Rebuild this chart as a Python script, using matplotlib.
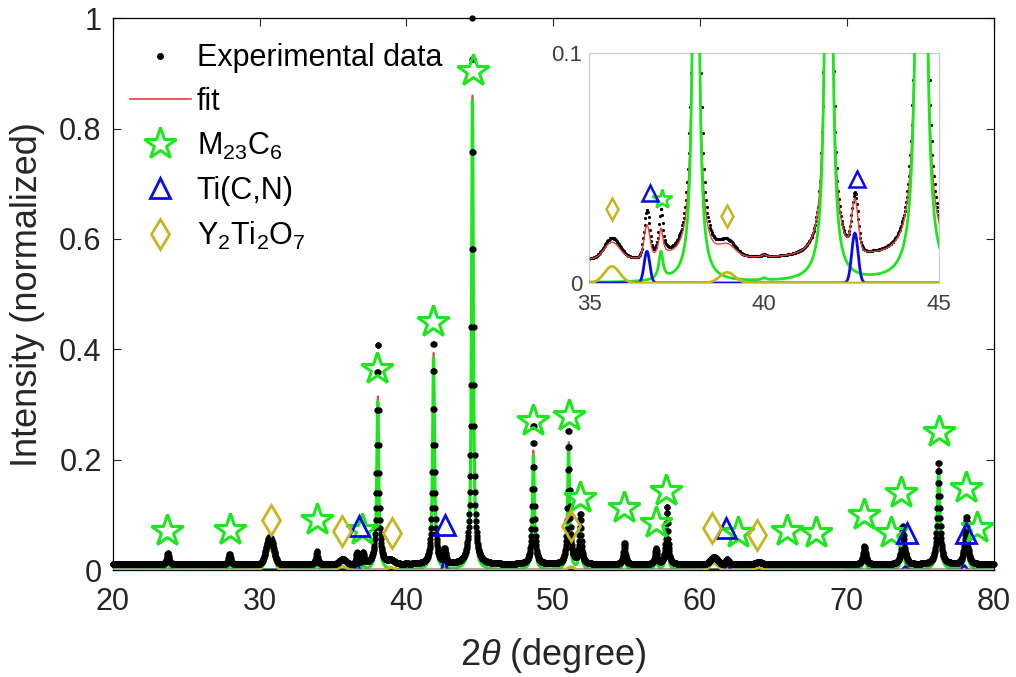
import numpy as np
import matplotlib.pyplot as plt
from matplotlib.lines import Line2D

plt.rcParams['font.family'] = ['Liberation Sans', 'DejaVu Sans']
plt.rcParams['mathtext.fontset'] = 'custom'
plt.rcParams['mathtext.rm'] = 'Liberation Sans'
plt.rcParams['mathtext.it'] = 'Liberation Sans:italic'

# peak table (2theta in degree, heights normalized)
background = 0.01

m23c6_pos = [23.75, 27.95, 33.9, 37.05, 38.05, 40.0, 41.85, 44.5, 48.65, 51.05,
             51.85, 54.85, 57.0, 57.75, 71.2, 73.8, 76.25, 78.15]
m23c6_fit = [0.018, 0.016, 0.022, 0.012, 0.31, 0.001, 0.39, 0.85, 0.21, 0.22,
             0.072, 0.035, 0.025, 0.08, 0.03, 0.055, 0.18, 0.068]
m23c6_obs = [0.022, 0.02, 0.024, 0.02, 0.405, 0.001, 0.405, 0.99, 0.255, 0.24,
             0.09, 0.04, 0.028, 0.105, 0.033, 0.068, 0.185, 0.082]
m23c6_hw = [0.08, 0.08, 0.07, 0.07, 0.075, 0.07, 0.075, 0.07, 0.075, 0.075,
            0.08, 0.08, 0.08, 0.08, 0.1, 0.1, 0.1, 0.1]

ticn_pos = [36.65, 42.6, 61.85, 74.0, 78.0]
ticn_fit = [0.0138, 0.0217, 0.008, 0.006, 0.008]
ticn_obs = [0.02, 0.024, 0.009, 0.007, 0.009]
ticn_sig = [0.08, 0.09, 0.12, 0.12, 0.12]

y2ti2o7_pos = [30.7, 35.65, 38.95, 51.2, 60.95, 64.0]
y2ti2o7_fit = [0.04, 0.0072, 0.0046, 0.006, 0.012, 0.004]
y2ti2o7_obs = [0.05, 0.009, 0.006, 0.006, 0.013, 0.004]
y2ti2o7_sig = [0.25, 0.22, 0.22, 0.22, 0.25, 0.25]

# phase markers in the main plot
star_x = [23.7, 28.0, 33.9, 37.0, 38.0, 41.8, 44.55, 48.6, 51.05, 51.8, 54.8,
          57.0, 57.7, 62.6, 65.9, 67.9, 71.2, 73.0, 73.7, 76.3, 78.1, 78.9]
star_y = [0.07, 0.072, 0.09, 0.072, 0.365, 0.45, 0.905, 0.27, 0.28, 0.13, 0.112,
          0.085, 0.143, 0.067, 0.07, 0.067, 0.1, 0.067, 0.139, 0.25, 0.148, 0.076]
tri_x = [36.8, 42.6, 61.8, 74.1, 78.1]
tri_y = [0.079, 0.081, 0.076, 0.067, 0.067]
dia_x = [30.8, 35.6, 39.0, 51.2, 60.8, 63.9]
dia_y = [0.09, 0.07, 0.067, 0.079, 0.076, 0.063]

# phase markers in the inset
in_star_x, in_star_y = [37.07], [0.0365]
in_tri_x, in_tri_y = [36.73, 42.65], [0.039, 0.045]
in_dia_x, in_dia_y = [35.64, 38.95], [0.032, 0.029]


def lorentz(x, pos, h, w):
    out = np.zeros_like(x)
    for p, a, g in zip(pos, h, w):
        out += a / (1 + ((x - p) / g) ** 2)
    return out


def gauss(x, pos, h, s):
    out = np.zeros_like(x)
    for p, a, g in zip(pos, h, s):
        out += a * np.exp(-0.5 * ((x - p) / g) ** 2)
    return out


tt = np.arange(20, 80.0001, 0.02)
green = lorentz(tt, m23c6_pos, m23c6_fit, m23c6_hw)
blue = gauss(tt, ticn_pos, ticn_fit, ticn_sig)
yellow = gauss(tt, y2ti2o7_pos, y2ti2o7_fit, y2ti2o7_sig)
fit = background + green + blue + yellow
obs = (background + lorentz(tt, m23c6_pos, m23c6_obs, m23c6_hw)
       + gauss(tt, ticn_pos, ticn_obs, ticn_sig)
       + gauss(tt, y2ti2o7_pos, y2ti2o7_obs, y2ti2o7_sig))

c_green = '#1EE61E'
c_blue = '#0A0AE6'
c_yel = '#C8B41E'
c_red = '#E8413A'

fig = plt.figure(figsize=(10.16, 6.77), dpi=100)
ax = fig.add_axes([0.111, 0.158, 0.867, 0.815])

ax.plot(tt, fit, color=c_red, lw=1.2, zorder=3)
ax.plot(tt, green, color=c_green, lw=2.3, zorder=4)
ax.plot(tt, blue, color=c_blue, lw=2, zorder=4)
ax.plot(tt, yellow, color=c_yel, lw=2, zorder=4)
ax.plot(tt, obs, ls='none', marker='.', color='k', ms=7, zorder=5, clip_on=False)

ax.plot(star_x, star_y, ls='none', marker='*', ms=24, mfc='none', mec=c_green, mew=2.2, zorder=6)
ax.plot(tri_x, tri_y, ls='none', marker='^', ms=15, mfc='none', mec=c_blue, mew=2, zorder=6)
ax.plot(dia_x, dia_y, ls='none', marker='d', ms=15, mfc='none', mec=c_yel, mew=2, zorder=6)

ax.set_xlim(20, 80)
ax.set_ylim(0, 1)
ax.set_xticks([20, 30, 40, 50, 60, 70, 80])
ax.set_yticks([0, 0.2, 0.4, 0.6, 0.8, 1])
ax.set_yticklabels(['0', '0.2', '0.4', '0.6', '0.8', '1'])
ax.tick_params(direction='in', top=True, right=True, length=6, width=0.8,
               labelsize=22, colors='#262626')
ax.tick_params(axis='x', pad=12)
ax.tick_params(axis='y', pad=8)
for s in ax.spines.values():
    s.set_linewidth(0.9)
ax.set_xlabel(r'2$\theta$ (degree)', fontsize=26, color='#262626', labelpad=14)
ax.set_ylabel('Intensity (normalized)', fontsize=26, color='#262626', labelpad=10)

handles = [
    Line2D([], [], ls='none', marker='.', color='k', ms=8),
    Line2D([], [], color=c_red, lw=1.2),
    Line2D([], [], ls='none', marker='*', ms=24, mfc='none', mec=c_green, mew=2.2),
    Line2D([], [], ls='none', marker='^', ms=15, mfc='none', mec=c_blue, mew=2),
    Line2D([], [], ls='none', marker='d', ms=15, mfc='none', mec=c_yel, mew=2),
]
labels = ['Experimental data', 'fit', 'M$_{23}$C$_6$', 'Ti(C,N)', 'Y$_2$Ti$_2$O$_7$']
ax.legend(handles, labels, loc='upper left', bbox_to_anchor=(0.0, 0.985),
          frameon=False, fontsize=22, handlelength=2.0, handletextpad=0.2,
          labelspacing=0.45, borderaxespad=0.15, borderpad=0.4)

# inset: zoom on the weak peaks
axi = fig.add_axes([0.580, 0.582, 0.344, 0.340])
axi.plot(tt, obs, ls='none', marker='.', color='k', ms=2.5, zorder=2)
axi.plot(tt, fit, color=c_red, lw=1, zorder=3)
axi.plot(tt, green, color=c_green, lw=2, zorder=4)
axi.plot(tt, blue, color=c_blue, lw=2, zorder=4)
axi.plot(tt, yellow, color=c_yel, lw=2, zorder=4)
axi.plot(in_star_x, in_star_y, ls='none', marker='*', ms=15, mfc='none', mec=c_green, mew=1.8, zorder=6)
axi.plot(in_tri_x, in_tri_y, ls='none', marker='^', ms=11, mfc='none', mec=c_blue, mew=1.8, zorder=6)
axi.plot(in_dia_x, in_dia_y, ls='none', marker='d', ms=11, mfc='none', mec=c_yel, mew=1.8, zorder=6)
axi.set_xlim(35, 45)
axi.set_ylim(0, 0.1)
axi.set_xticks([35, 40, 45])
axi.set_yticks([0, 0.1])
axi.set_yticklabels(['0', '0.1'])
axi.tick_params(length=0, labelsize=16, colors='#404040')
axi.tick_params(axis='x', pad=8)
axi.tick_params(axis='y', pad=5)
for s in axi.spines.values():
    s.set_color('#C8C8C8')
    s.set_linewidth(0.8)

fig.savefig('out.png', dpi=100)
